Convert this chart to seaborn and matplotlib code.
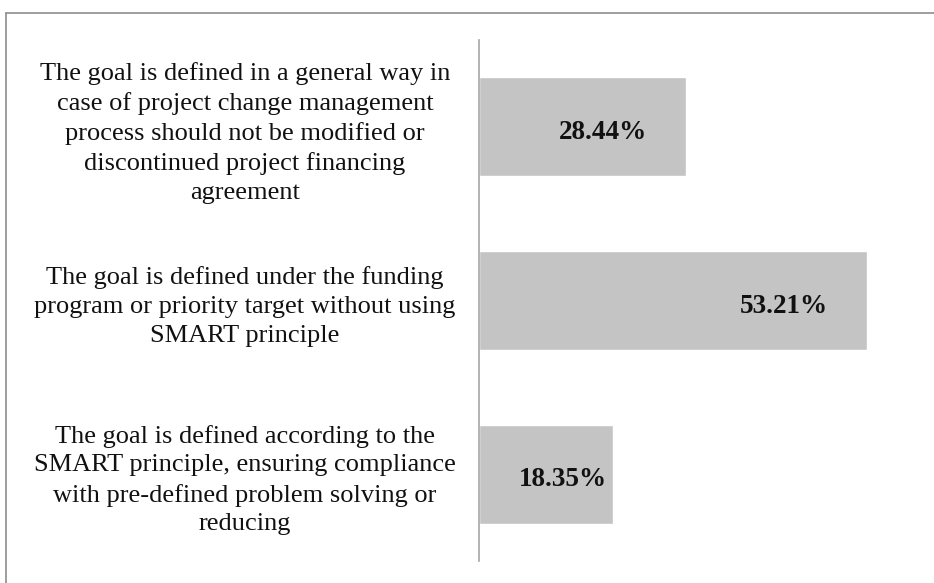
import seaborn as sns
import pandas as pd
import matplotlib.pyplot as plt
from matplotlib.lines import Line2D

# Данные графика
categories = [
    "The goal is defined in a general way in\ncase of project change management\nprocess should not be modified or\ndiscontinued project financing\nagreement",
    "The goal is defined under the funding\nprogram or priority target without using\nSMART principle",
    "The goal is defined according to the\nSMART principle, ensuring compliance\nwith pre-defined problem solving or\nreducing",
]
values = [28.44, 53.21, 18.35]
value_labels = ["28.44%", "53.21%", "18.35%"]

sns.set_style("white")
plt.rcParams['font.family'] = ['Liberation Serif', 'DejaVu Serif']

df = pd.DataFrame({"category": categories, "value": values})

fig = plt.figure(figsize=(9.34, 5.83), dpi=100)
ax = fig.add_axes([479 / 934, 22 / 583, 437 / 934, 521 / 583])

sns.barplot(data=df, y="category", x="value", orient="h", color="#C4C4C4",
            width=0.57, saturation=1, ax=ax)

ax.set_xlim(0, 60)
ax.set_ylim(2.5, -0.5)
ax.set_xlabel("")
ax.set_ylabel("")
ax.set_xticks([])
for side in ["top", "right", "bottom"]:
    ax.spines[side].set_visible(False)
ax.spines["left"].set_color("#A6A6A6")
ax.spines["left"].set_linewidth(1.2)

# Подписи категорий: центрированы в блоке слева от оси
ax.tick_params(axis="y", length=0, pad=(479 - 245) * 0.72)
for lbl in ax.get_yticklabels():
    lbl.set_fontsize(19)
    lbl.set_horizontalalignment("center")
    lbl.set_multialignment("center")
    lbl.set_linespacing(1.4)
    lbl.set_color("#111111")

# Подписи значений внутри столбцов
pads = [28, 28, 4]
for i, (v, txt) in enumerate(zip(values, value_labels)):
    ax.annotate(txt, xy=(v, i), xytext=(-pads[i], -4), textcoords="offset points",
                ha="right", va="center", fontsize=19.5, fontweight="bold", color="#111111")

# Рамка вокруг графика
frame_color = "#8C8C8C"
fig.add_artist(Line2D([6 / 934, 6 / 934], [0, 1 - 13 / 583], color=frame_color, lw=1.2))
fig.add_artist(Line2D([6 / 934, 1], [1 - 13 / 583, 1 - 13 / 583], color=frame_color, lw=1.2))

fig.savefig("out.png", dpi=100)
